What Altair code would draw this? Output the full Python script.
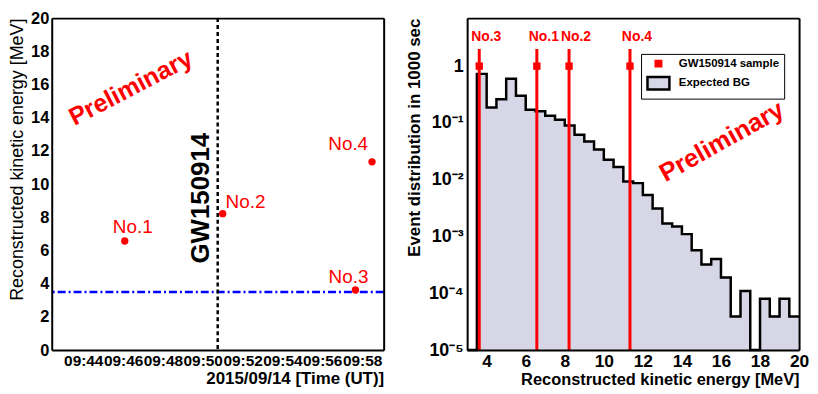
import altair as alt
import pandas as pd
import numpy as np

# ---------------- data ----------------
event_labels = ["No.1", "No.2", "No.3", "No.4"]
event_times = ["09:46:05", "09:51:00", "09:57:40", "09:58:30"]   # UT, 2015/09/14
event_energy = [6.57, 8.22, 3.62, 11.34]                           # MeV
event_counts = [1, 1, 1, 1]
gw_name = "GW150914"
gw_time = "09:50:45"
window_half_sec = 500
threshold_energy = 3.5

bg_bin_low = [3.0, 3.5, 4.0, 4.5, 5.0, 5.5, 6.0, 6.5, 7.0, 7.5, 8.0, 8.5,
              9.0, 9.5, 10.0, 10.5, 11.0, 11.5, 12.0, 12.5, 13.0, 13.5, 14.0,
              14.5, 15.0, 15.5, 16.0, 16.5, 17.0, 17.5, 18.0, 18.5, 19.0, 19.5]
bg_bin_high_end = 20.0
bg_rate = [0.0, 0.73, 0.186, 0.26, 0.6, 0.30, 0.17, 0.16, 0.134, 0.114, 0.09,
           0.062, 0.047, 0.034, 0.0225, 0.0168, 0.0093, 0.0087, 0.0054, 0.0031,
           0.0017, 0.0015, 0.0011, 0.00057, 0.00032, 0.0004, 0.00019, 0.000039,
           0.00011, 0.0, 0.00008, 0.000039, 0.00008, 0.000039]

legend_entries = ["GW150914 sample", "Expected BG"]
time_label_minutes = [44, 46, 48, 50, 52, 54, 56, 58]
energy_labels = [0, 2, 4, 6, 8, 10, 12, 14, 16, 18, 20]
hist_x_labels = [4, 6, 8, 10, 12, 14, 16, 18, 20]
decades = [1e-5, 1e-4, 1e-3, 1e-2, 1e-1, 1.0]

# ---------------- styling ----------------
W = 334
H = 334
YMIN = 1e-5
YMAX = 7.0
RED = "#ff0000"
BGFILL = "#d6d6e6"
FONT = "Liberation Sans"


def to_min(s):
    h, m, sec = (int(v) for v in s.split(":"))
    return (h - 9) * 60 + m + sec / 60.0


gw_m = to_min(gw_time)
ev = pd.DataFrame({
    "label": event_labels,
    "t": [to_min(t) for t in event_times],
    "E": event_energy,
    "n": event_counts,
})
ev["lo"] = np.maximum(ev["n"] - np.sqrt(ev["n"]), YMIN)
ev["hi"] = ev["n"] + np.sqrt(ev["n"])

hist = pd.DataFrame({"x": bg_bin_low + [bg_bin_high_end],
                     "v": bg_rate + [bg_rate[-1]]})
hist["vp"] = np.maximum(hist["v"], YMIN)


def frame_layer(chart, xf, yf, xs, ys):
    """invisible layer whose top/right axis domains close the ROOT-style box"""
    return chart.mark_point(opacity=0).encode(
        x=alt.X(xf, scale=xs, axis=alt.Axis(
            orient="top", labels=False, ticks=False, grid=False, domain=True,
            domainColor="black", domainWidth=2, title=None, zindex=2)),
        y=alt.Y(yf, scale=ys, axis=alt.Axis(
            orient="right", labels=False, ticks=False, grid=False, domain=True,
            domainColor="black", domainWidth=2, title=None, zindex=2)),
    )


# ================= left panel =================
xdom = [gw_m - window_half_sec / 60, gw_m + window_half_sec / 60]
ydom = [0, 20]
xs = alt.Scale(domain=xdom, nice=False, zero=False)
ys = alt.Scale(domain=ydom, nice=False, zero=False)
base = alt.Chart(ev)

pts = base.mark_circle(color=RED, size=55, opacity=1).encode(
    x=alt.X("t:Q", scale=xs, axis=alt.Axis(
        values=time_label_minutes,
        labelExpr="'09:' + format(datum.value, '02d')",
        ticks=False, tickSize=0, domain=True, domainColor="black",
        domainWidth=2, grid=False, zindex=2,
        labelFontSize=15.5, labelFontWeight="bold", labelPadding=4,
        labelOverlap=False, labelColor="black", labelFlush=False,
        title="2015/09/14 [Time (UT)]", titleAnchor="end", titleAlign="right",
        titleFontSize=17, titleFontWeight="bold", titlePadding=1,
        titleColor="black")),
    y=alt.Y("E:Q", scale=ys, axis=alt.Axis(
        values=energy_labels, ticks=False, tickSize=0, domain=True,
        domainColor="black", domainWidth=2, grid=False, zindex=2,
        labelFontSize=16.5, labelFontWeight="bold", labelPadding=3,
        labelColor="black", labelFlush=False,
        title="Reconstructed kinetic energy [MeV]", titleAnchor="end",
        titleAlign="right", titleFontSize=18, titleFontWeight="normal",
        titlePadding=4, titleColor="black")),
)

thr = alt.Chart(pd.DataFrame({"E": [threshold_energy]})).mark_rule(
    color="#0000ff", strokeWidth=2.5, strokeDash=[8, 3, 2, 3]).encode(
    y=alt.Y("E:Q", scale=ys, axis=None))

gw_line = alt.Chart(pd.DataFrame({"t": [gw_m]})).mark_rule(
    color="black", strokeWidth=2.5, strokeDash=[4, 3]).encode(
    x=alt.X("t:Q", scale=xs, axis=None))

label_offsets = {"No.1": (8, -14), "No.2": (23, -12), "No.3": (-7, -13), "No.4": (-24, -18)}
left_labels = []
for lab, (dx, dy) in label_offsets.items():
    left_labels.append(base.transform_filter(alt.datum.label == lab).mark_text(
        color=RED, fontSize=19, font=FONT, dx=dx, dy=dy, align="center",
        baseline="middle").encode(
        x=alt.X("t:Q", scale=xs, axis=None),
        y=alt.Y("E:Q", scale=ys, axis=None),
        text="label:N"))

gw_text = alt.Chart(pd.DataFrame({"t": [gw_m], "E": [9.15], "s": [gw_name]})).mark_text(
    angle=270, fontSize=26, fontWeight="bold", font=FONT, color="black",
    align="center", baseline="middle", dy=-17).encode(
    x=alt.X("t:Q", scale=xs, axis=None),
    y=alt.Y("E:Q", scale=ys, axis=None),
    text="s:N")

prelim_left = alt.Chart(pd.DataFrame({"t": [gw_m - 262 / 60], "E": [15.8],
                                      "s": ["Preliminary"]})).mark_text(
    angle=332.5, fontSize=25, fontWeight="bold", font=FONT, color=RED,
    align="center", baseline="middle").encode(
    x=alt.X("t:Q", scale=xs, axis=None),
    y=alt.Y("E:Q", scale=ys, axis=None),
    text="s:N")

left = alt.layer(thr, gw_line, pts, *left_labels, gw_text, prelim_left,
                 frame_layer(base, "t:Q", "E:Q", xs, ys)).resolve_axis(
    x="independent", y="independent").properties(width=W, height=H)

# ================= right panel =================
xdom2 = [3, 20]
ydom2 = [YMIN, YMAX]
xs2 = alt.Scale(domain=xdom2, nice=False, zero=False)
ys2 = alt.Scale(type="log", domain=ydom2, nice=False)
hbase = alt.Chart(hist)

sup = "['⁻⁵','⁻⁴','⁻³','⁻²','⁻¹','']"
area = hbase.mark_area(interpolate="step-after", color=BGFILL, opacity=1).encode(
    x=alt.X("x:Q", scale=xs2, axis=alt.Axis(
        values=hist_x_labels, format="d", ticks=False, tickSize=0, domain=True,
        domainColor="black", domainWidth=2, zindex=2,
        grid=False, labelFontSize=17.5, labelFontWeight="bold", labelPadding=3,
        labelColor="black", labelFlush=False,
        title="Reconstructed kinetic energy [MeV]", titleAnchor="end",
        titleAlign="right", titleFontSize=16.5, titleFontWeight="bold",
        titlePadding=1, titleColor="black")),
    y=alt.Y("vp:Q", scale=ys2, axis=alt.Axis(
        values=decades, ticks=False, tickSize=0, domain=True,
        domainColor="black", domainWidth=2, zindex=2, grid=False,
        labelExpr="datum.value > 0.5 ? '1' : '10' + " + sup + "[round(log(datum.value)/LN10) + 5]",
        labelFontSize=18, labelFontWeight="bold", labelPadding=4,
        labelColor="black", labelFlush=False,
        title="Event distribution in 1000 sec", titleAnchor="end",
        titleAlign="right", titleFontSize=17, titleFontWeight="bold",
        titlePadding=5, titleColor="black")),
    y2=alt.Y2Datum(YMIN),
)

outline = hbase.mark_line(interpolate="step-after", color="black", strokeWidth=2.5).encode(
    x=alt.X("x:Q", scale=xs2, axis=None),
    y=alt.Y("vp:Q", scale=ys2, axis=None),
)

ebase = alt.Chart(ev)
err = ebase.mark_rule(color=RED, strokeWidth=3).encode(
    x=alt.X("E:Q", scale=xs2, axis=None),
    y=alt.Y("lo:Q", scale=ys2, axis=None),
    y2="hi:Q",
)
sq = ebase.mark_square(color=RED, size=55, opacity=1).encode(
    x=alt.X("E:Q", scale=xs2, axis=None),
    y=alt.Y("n:Q", scale=ys2, axis=None),
)
rlabels = ebase.mark_text(color=RED, fontSize=14, fontWeight="bold", font=FONT,
                          dx=7, dy=-12, align="center", baseline="middle").encode(
    x=alt.X("E:Q", scale=xs2, axis=None),
    y=alt.Y("hi:Q", scale=ys2, axis=None),
    text="label:N",
)

prelim_right = alt.Chart(pd.DataFrame({"x": [16.04], "y": [0.047],
                                       "s": ["Preliminary"]})).mark_text(
    angle=330.7, fontSize=25.5, fontWeight="bold", font=FONT, color=RED,
    align="center", baseline="middle").encode(
    x=alt.X("x:Q", scale=xs2, axis=None),
    y=alt.Y("y:Q", scale=ys2, axis=None),
    text="s:N")

leg = alt.Legend(title=None, orient="none", legendX=175 + W + 84, legendY=36,
                 strokeColor="black", fillColor="white", padding=4,
                 rowPadding=0, symbolOffset=5, labelOffset=12,
                 labelFontSize=11.5, labelFontWeight="bold", labelFont=FONT,
                 labelColor="black", symbolOpacity=1, symbolStrokeWidth=2.5)
legend_layer = alt.Chart(pd.DataFrame({"entry": legend_entries})).mark_point(
    filled=True, opacity=0).encode(
    shape=alt.Shape("entry:N", scale=alt.Scale(domain=legend_entries,
                    range=["square", "M-1.6,-0.9H1.6V0.9H-1.6Z"]), legend=leg),
    fill=alt.Fill("entry:N", scale=alt.Scale(domain=legend_entries,
                  range=[RED, BGFILL]), legend=leg),
    stroke=alt.Stroke("entry:N", scale=alt.Scale(domain=legend_entries,
                      range=[RED, "black"]), legend=leg),
    size=alt.Size("entry:N", scale=alt.Scale(domain=legend_entries,
                  range=[30, 190]), legend=leg),
)

right = alt.layer(area, outline, err, sq, rlabels, prelim_right, legend_layer,
                  frame_layer(hbase, "x:Q", "vp:Q", xs2, ys2)).resolve_axis(
    x="independent", y="independent").properties(width=W, height=H)

chart = alt.hconcat(left, right, spacing=84, bounds="flush").configure_view(
    stroke=None).configure(font=FONT, padding=0)

chart.save("out.html", embed_options={"renderer": "svg", "actions": False})
